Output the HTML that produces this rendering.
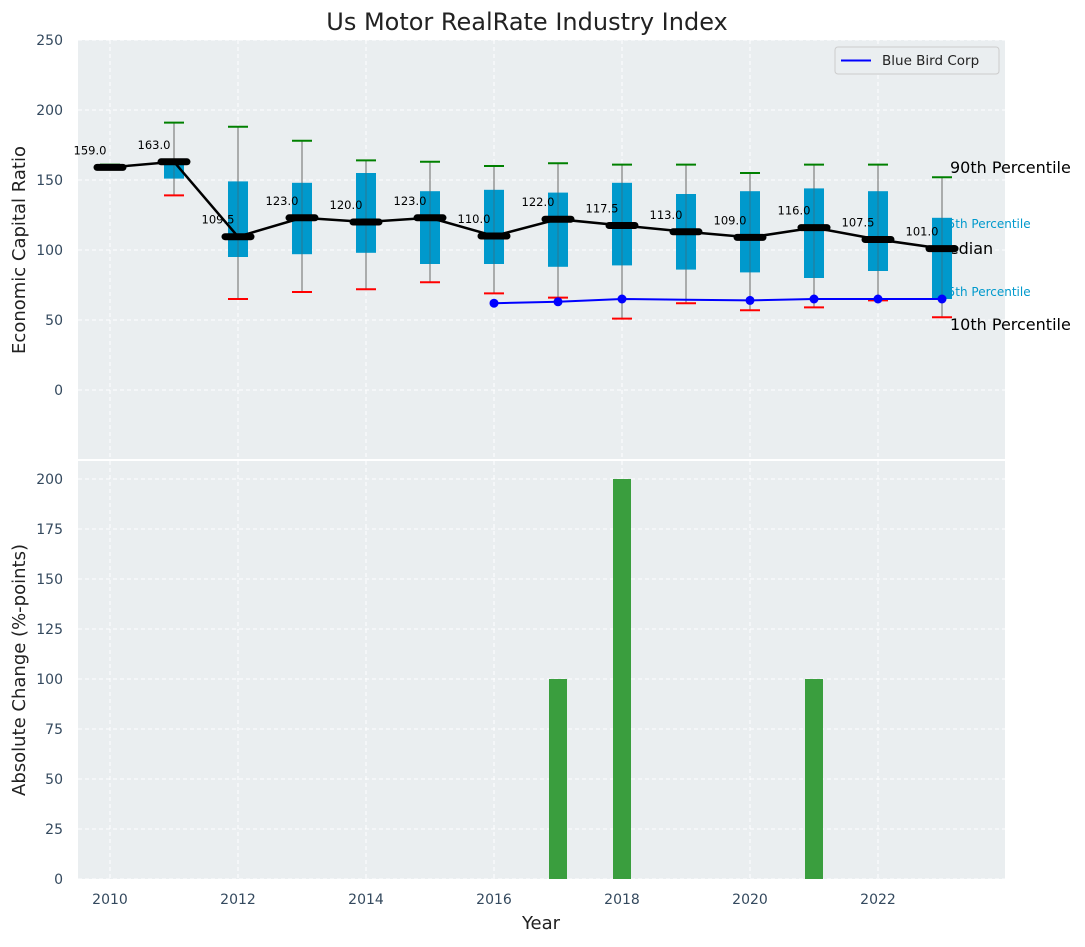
<!DOCTYPE html>
<html><head><meta charset="utf-8"><style>
body{margin:0;background:#fff;width:1085px;height:942px;overflow:hidden}
svg text{font-family:"DejaVu Sans","Liberation Sans",sans-serif}
</style></head><body>
<svg id="chart" width="1085" height="942" xmlns="http://www.w3.org/2000/svg"></svg>
<script>
const years=[2010,2011,2012,2013,2014,2015,2016,2017,2018,2019,2020,2021,2022,2023];
const medians=[159,163,109.5,123,120,123,110,122,117.5,113,109,116,107.5,101];
const q1=[159,151,95,97,98,90,90,88,89,86,84,80,85,65];
const q3=[159,163,149,148,155,142,143,141,148,140,142,144,142,123];
const p10=[159,139,65,70,72,77,69,66,51,62,57,59,64,52];
const p90=[161,191,188,178,164,163,160,162,161,161,155,161,161,152];
const blueYears=[2016,2017,2018,2019,2020,2021,2022,2023];
const blueVals=[62,63,65,64.5,64,65,65,65];
const changeYears=[2017,2018,2021];
const changeVals=[100,200,100];
const topTicks=[0,50,100,150,200,250];
const botTicks=[0,25,50,75,100,125,150,175,200];
const xTicks=[2010,2012,2014,2016,2018,2020,2022];

{
const NS="http://www.w3.org/2000/svg";
const svg=document.getElementById('chart');
const L=78,R=1005;
const X=v=>L+(v-2009.5)*64;
const Y1=v=>390-v*1.4;
const Y2=v=>879-v*(879-459)/210;
function el(t,a,p){const e=document.createElementNS(NS,t);for(const k in a)e.setAttribute(k,a[k]);(p||svg).appendChild(e);return e;}

const topRect=el('rect',{x:L,y:40,width:R-L,height:419,fill:'#eaeef0'});


const botRect=el('rect',{x:L,y:461,width:R-L,height:418,fill:'#eaeef0'});



xTicks.forEach(t=>{
  el('line',{x1:X(t),x2:X(t),y1:40,y2:459,stroke:'#fff','stroke-dasharray':'4,3','stroke-width':1});
  el('line',{x1:X(t),x2:X(t),y1:461,y2:879,stroke:'#fff','stroke-dasharray':'4,3','stroke-width':1});
  const tx=el('text',{x:X(t),y:904,'text-anchor':'middle','font-size':14,fill:'#34495e'});tx.textContent=t;
  
  
});
topTicks.forEach(t=>{
  el('line',{x1:L,x2:R,y1:Y1(t),y2:Y1(t),stroke:'#fff','stroke-dasharray':'4,3'});
  const tx=el('text',{x:63,y:Y1(t)+5,'text-anchor':'end','font-size':14,fill:'#34495e'});tx.textContent=t;
  
  
});
botTicks.forEach(t=>{
  el('line',{x1:L,x2:R,y1:Y2(t),y2:Y2(t),stroke:'#fff','stroke-dasharray':'4,3'});
  const tx=el('text',{x:63,y:Y2(t)+5,'text-anchor':'end','font-size':14,fill:'#34495e'});tx.textContent=t;
  
  
});

[['90th Percentile',173,16,'#000',950],['75th Percentile',228,12,'#0099cc',940],['Median',254,16,'#000',935],['25th Percentile',296,12,'#0099cc',940],['10th Percentile',330,16,'#000',950]].forEach(d=>{
  const t=el('text',{x:d[4],y:d[1],'font-size':d[2],fill:d[3]});t.textContent=d[0];
  
  
});

years.forEach((y,i)=>{
  const x=X(y);
  const g=el('g',{});
  
  
  el('line',{x1:x,x2:x,y1:Y1(p90[i]),y2:Y1(p10[i]),stroke:'#888','stroke-width':1.3},g);
  el('rect',{x:x-10,y:Y1(q3[i]),width:20,height:Math.max(0,Y1(q1[i])-Y1(q3[i])),fill:'#0099cc'},g);
  el('line',{x1:x,x2:x,y1:Y1(q3[i]),y2:Y1(q1[i]),stroke:'#555','stroke-width':1,'stroke-opacity':0.5},g);
  el('line',{x1:x-10,x2:x+10,y1:Y1(p90[i]),y2:Y1(p90[i]),stroke:'green','stroke-width':2},g);
  el('line',{x1:x-10,x2:x+10,y1:Y1(p10[i]),y2:Y1(p10[i]),stroke:'red','stroke-width':2},g);
});
const mp=el('polyline',{points:years.map((y,i)=>X(y)+','+Y1(medians[i])).join(' '),fill:'none',stroke:'#000','stroke-width':2.5});


years.forEach((y,i)=>{
  const m=el('line',{x1:X(y)-13,x2:X(y)+13,y1:Y1(medians[i]),y2:Y1(medians[i]),stroke:'#000','stroke-width':7,'stroke-linecap':'round'});
  
  
  const t=el('text',{x:X(y)-20,y:Y1(medians[i])-13,'text-anchor':'middle','font-size':11.5,fill:'#000'});t.textContent=medians[i].toFixed(1);
  
  
});
const bl=el('polyline',{points:blueYears.map((y,i)=>X(y)+','+Y1(blueVals[i])).join(' '),fill:'none',stroke:'#0000ff','stroke-width':2});


blueYears.forEach((y,i)=>{
  if(y===2019)return;
  const c=el('circle',{cx:X(y),cy:Y1(blueVals[i]),r:4.5,fill:'#0000ff'});
  
  
});
changeYears.forEach((y,i)=>{
  const b=el('rect',{x:X(y)-9,y:Y2(changeVals[i]),width:18,height:Y2(0)-Y2(changeVals[i]),fill:'#3a9e3e'});
  
  
});
const lg=el('g',{});


el('rect',{x:835,y:47,width:164,height:27,rx:3,fill:'#eaeef0',stroke:'#ccc'},lg);
el('line',{x1:841,x2:871,y1:60.5,y2:60.5,stroke:'#0000ff','stroke-width':2},lg);
const lt=el('text',{x:882,y:65,'font-size':13.5,fill:'#222'},lg);lt.textContent='Blue Bird Corp';
const tt=el('text',{x:527,y:30,'text-anchor':'middle','font-size':24,fill:'#222'});tt.textContent='Us Motor RealRate Industry Index';


const xl=el('text',{x:541,y:929,'text-anchor':'middle','font-size':18,fill:'#222'});xl.textContent='Year';


const y1l=el('text',{x:0,y:0,'text-anchor':'middle','font-size':18,fill:'#222',transform:'translate(25,250) rotate(-90)'});y1l.textContent='Economic Capital Ratio';


const y2l=el('text',{x:0,y:0,'text-anchor':'middle','font-size':18,fill:'#222',transform:'translate(25,670) rotate(-90)'});y2l.textContent='Absolute Change (%-points)';


}
</script>
</body></html>
